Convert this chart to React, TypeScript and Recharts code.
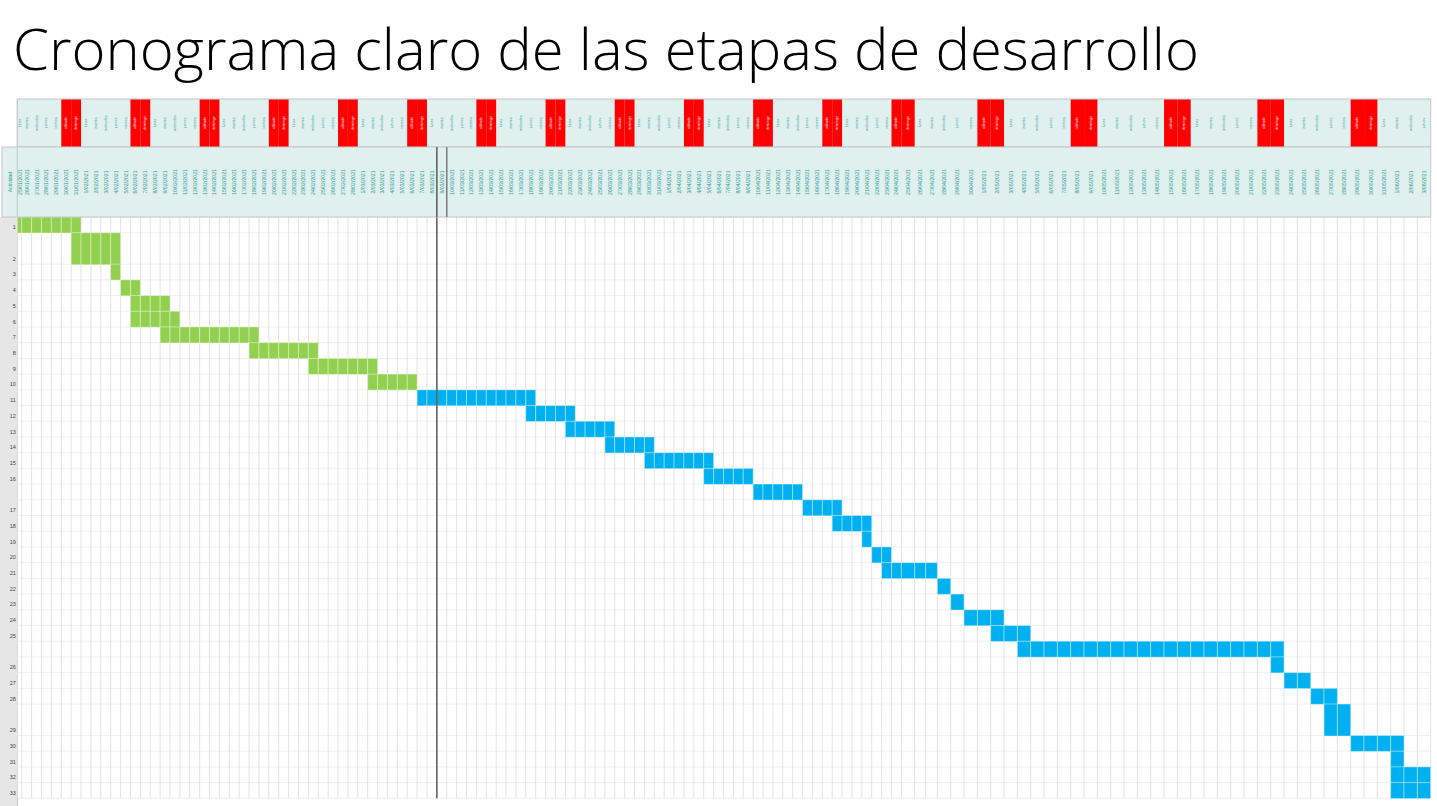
import { BarChart, Bar, XAxis, YAxis, CartesianGrid, ReferenceLine } from "recharts";

// ---- datos ----
const INICIO_PROYECTO = { anio: 2021, mes: 0, dia: 25 }; // lunes 25/01/2021
const NUM_DIAS = 130; // hasta 3/06/2021
const DIAS_SEMANA = ["lunes", "martes", "miércoles", "jueves", "viernes", "sábado", "domingo"];
const ACTIVIDADES = [1, 2, 3, 4, 5, 6, 7, 8, 9, 10, 11, 12, 13, 14, 15, 16, 17, 18, 19, 20, 21, 22, 23, 24, 25, 26, 27, 28, 29, 30, 31, 32, 33];

// columna de inicio y fin (exclusivo) de cada fila del cronograma
const INICIOS = [0, 6, 10, 11, 12, 12, 15, 24, 30, 36, 41, 52, 56, 60, 64, 70, 75, 80, 83, 86, 87, 88, 93, 94, 95, 97, 99, 118, 119, 121, 122, 124, 127, 127, 127];
const FINES = [7, 11, 11, 13, 16, 17, 25, 31, 37, 41, 53, 57, 61, 65, 71, 75, 80, 84, 87, 87, 89, 93, 94, 95, 98, 100, 119, 119, 121, 123, 124, 128, 128, 130, 130];
const FASES = [
  "diseño", "diseño", "diseño", "diseño", "diseño", "diseño", "diseño", "diseño", "diseño", "diseño",
  "desarrollo", "desarrollo", "desarrollo", "desarrollo", "desarrollo", "desarrollo", "desarrollo", "desarrollo",
  "desarrollo", "desarrollo", "desarrollo", "desarrollo", "desarrollo", "desarrollo", "desarrollo", "desarrollo",
  "desarrollo", "desarrollo", "desarrollo", "desarrollo", "desarrollo", "desarrollo", "desarrollo", "desarrollo",
  "desarrollo",
];
const DIA_MARCADO = 43; // línea vertical antes del 9/03/2021
const TITULO = "Cronograma claro de las etapas de desarrollo";

// ---- maquetación ----
const FILAS_DOBLES_GANTT = [2, 31];
const FILAS_DOBLES_ETIQUETA = [2, 17, 26, 29];
const COLOR_FASE: Record<string, string> = { diseño: "#92d050", desarrollo: "#00b0f0" };
const TEAL = "#2f9e91";
const ALTO_DIAS = 48;
const ALTO_FECHAS = 70;

// ancho relativo de cada columna de la hoja
const anchoColumna = (i: number) =>
  i === 0 ? 0.45 : i < 90 ? 1 : i === 90 ? 1.346 : i === 91 ? 1.113 : i === 92 ? 1.184 : 1.349;

const fechaDe = (i: number) => {
  const d = new Date(INICIO_PROYECTO.anio, INICIO_PROYECTO.mes, INICIO_PROYECTO.dia + i);
  return `${d.getDate()}/${String(d.getMonth() + 1).padStart(2, "0")}/${d.getFullYear()}`;
};

const registroX: { actual: any } = { actual: null };

// escala lineal por tramos (columnas de distinto ancho)
function crearEscala(pesos: number[]): any {
  const acum = [0];
  pesos.forEach((p, i) => acum.push(acum[i] + p));
  const n = pesos.length;
  const unidades = (v: number) => {
    if (v <= 0) return v * pesos[0];
    if (v >= n) return acum[n] + (v - n) * pesos[n - 1];
    const i = Math.floor(v);
    return acum[i] + (v - i) * pesos[i];
  };
  let dom = [0, n];
  let ran = [0, 1];
  const s: any = (v: any) => {
    const u0 = unidades(dom[0]);
    const u1 = unidades(dom[dom.length - 1]);
    const t = (unidades(Number(v)) - u0) / (u1 - u0 || 1);
    return ran[0] + t * (ran[ran.length - 1] - ran[0]);
  };
  s.domain = (d?: any) => {
    if (d === undefined) return dom.slice();
    dom = Array.from(d, Number);
    return s;
  };
  s.range = (r?: any) => {
    if (r === undefined) return ran.slice();
    ran = Array.from(r, Number);
    registroX.actual = s;
    return s;
  };
  s.rangeRound = s.range;
  s.copy = () => crearEscala(pesos).domain(dom).range(ran);
  s.invert = (px: number) => {
    const u0 = unidades(dom[0]);
    const u1 = unidades(dom[dom.length - 1]);
    const u = u0 + ((px - ran[0]) / (ran[ran.length - 1] - ran[0])) * (u1 - u0);
    let i = 0;
    while (i < n - 1 && acum[i + 1] <= u) i++;
    return i + (u - acum[i]) / pesos[i];
  };
  s.ticks = (cuenta = 10) => {
    const a = Math.ceil(dom[0]);
    const b = Math.floor(dom[dom.length - 1]);
    const paso = Math.max(1, Math.ceil((b - a) / cuenta));
    const out: number[] = [];
    for (let v = a; v <= b; v += paso) out.push(v);
    return out;
  };
  s.tickFormat = () => (v: number) => String(v);
  s.nice = () => s;
  s.clamp = () => s;
  s.unknown = () => s;
  s.interpolate = () => s;
  return s;
}

const ESCALA_DIAS = crearEscala(Array.from({ length: NUM_DIAS }, (_, i) => anchoColumna(i)));
const CENTROS = Array.from({ length: NUM_DIAS }, (_, i) => i + 0.5);
const BORDES = Array.from({ length: NUM_DIAS + 1 }, (_, i) => i);

// ---- tabla de ranuras (filas de altura unidad) ----
const ranuraInicioGantt: number[] = [];
let k = 0;
INICIOS.forEach((_, f) => {
  ranuraInicioGantt.push(k);
  k += FILAS_DOBLES_GANTT.includes(f + 1) ? 2 : 1;
});
const NUM_RANURAS = k;

const etiquetaEnRanura: Record<number, string> = {};
let e = 0;
ACTIVIDADES.forEach((a) => {
  e += FILAS_DOBLES_ETIQUETA.includes(a) ? 2 : 1;
  etiquetaEnRanura[e - 1] = String(a);
});

const ranuras = Array.from({ length: NUM_RANURAS }, (_, r) => {
  const f = ranuraInicioGantt.indexOf(r);
  return {
    ranura: `r${r}`,
    etiqueta: etiquetaEnRanura[r] ?? "",
    rango: f >= 0 ? [INICIOS[f], FINES[f]] : null,
    fase: f >= 0 ? FASES[f] : null,
    alto: f >= 0 && FILAS_DOBLES_GANTT.includes(f + 1) ? 2 : 1,
  };
});
const ETIQUETA_RANURA: Record<string, string> = Object.fromEntries(ranuras.map((r) => [r.ranura, r.etiqueta]));

const bordesHorizontales = [...ranuraInicioGantt, NUM_RANURAS];

function CeldasTarea(props: any) {
  const { x, y, width, height, payload } = props;
  if (!payload || !payload.rango || width == null) return null;
  const s = registroX.actual;
  const [a, b] = payload.rango;
  const alto = height * payload.alto;
  const celdas = [];
  for (let c = a; c < b; c++) {
    const x0 = s ? s(c) : x + ((c - a) * width) / (b - a);
    const x1 = s ? s(c + 1) : x + ((c - a + 1) * width) / (b - a);
    celdas.push(
      <rect
        key={c}
        x={x0}
        y={y}
        width={x1 - x0}
        height={alto}
        fill={COLOR_FASE[payload.fase]}
        stroke="rgba(255,255,255,0.38)"
        strokeWidth={1}
      />
    );
  }
  return <g>{celdas}</g>;
}

function CabeceraDia(props: any) {
  const { x, y, payload, index } = props;
  const s = registroX.actual;
  const i = Math.floor(payload.value);
  const izq = s ? s(i) : x - 5;
  const der = s ? s(i + 1) : x + 5;
  const cx = (izq + der) / 2;
  const finDe = i % 7 >= 5;
  const yDias = y - ALTO_DIAS - ALTO_FECHAS;
  const yFechas = y - ALTO_FECHAS;
  const cyDia = yDias + ALTO_DIAS / 2;
  const cyFecha = yFechas + ALTO_FECHAS / 2;
  const fin = s ? s(NUM_DIAS) : x;
  return (
    <g>
      {index === 0 && (
        <g>
          <rect x={izq} y={yDias} width={fin - izq} height={ALTO_DIAS} fill="#dff0ef" stroke="#c6c6c6" strokeWidth={1} />
          <rect x={izq - 15.3} y={yFechas} width={fin - izq + 15.3} height={ALTO_FECHAS} fill="#dff0ef" stroke="#c6c6c6" strokeWidth={1} />
          <line x1={izq} x2={izq} y1={yDias} y2={y} stroke="#c6c6c6" strokeWidth={1} />
          <text
            x={izq - 7.5}
            y={cyFecha}
            transform={`rotate(-90 ${izq - 7.5} ${cyFecha})`}
            textAnchor="middle"
            dominantBaseline="central"
            fontSize={5}
            fontFamily="Liberation Sans, Arial, sans-serif"
            fill={TEAL}
          >
            Actividad
          </text>
        </g>
      )}
      {finDe && <rect x={izq} y={yDias + 0.5} width={der - izq} height={ALTO_DIAS - 1} fill="#ff0000" />}
      <text
        x={cx}
        y={cyDia}
        transform={`rotate(-90 ${cx} ${cyDia})`}
        textAnchor="middle"
        dominantBaseline="central"
        fontSize={3.6}
        fontFamily="Liberation Sans, Arial, sans-serif"
        fill={finDe ? "#ffffff" : TEAL}
      >
        {DIAS_SEMANA[i % 7]}
      </text>
      <text
        x={cx}
        y={cyFecha}
        transform={`rotate(-90 ${cx} ${cyFecha})`}
        textAnchor="middle"
        dominantBaseline="central"
        fontSize={5.2}
        fontFamily="Liberation Sans, Arial, sans-serif"
        fill={TEAL}
      >
        {fechaDe(i)}
      </text>
      {i === DIA_MARCADO && (
        <g>
          <line x1={izq} x2={izq} y1={yFechas} y2={y} stroke="#5a5a5a" strokeWidth={1.5} />
          <line x1={der} x2={der} y1={yFechas} y2={y} stroke="#7a7a7a" strokeWidth={1.5} />
        </g>
      )}
    </g>
  );
}

function EtiquetaActividad(props: any) {
  const { x, y, payload } = props;
  const texto = ETIQUETA_RANURA[payload.value] ?? "";
  if (!texto) return null;
  return (
    <text
      x={x}
      y={y + 4.5}
      textAnchor="end"
      fontSize={5.5}
      fontFamily="Liberation Sans, Arial, sans-serif"
      fill="#444"
    >
      {texto}
    </text>
  );
}

export default function App() {
  return (
    <div
      style={{
        position: "absolute",
        left: 0,
        top: 0,
        width: 1437,
        height: 806,
        background: "#fff",
        overflow: "hidden",
      }}
    >
      <svg width={1437} height={95} style={{ position: "absolute", left: 0, top: 0 }}>
        <text
          x={13}
          y={70}
          fontFamily="'Open Sans', Lato, sans-serif"
          fontWeight={300}
          fontSize={57}
          textLength={1186}
          lengthAdjust="spacingAndGlyphs"
          fill="#000"
        >
          {TITULO}
        </text>
      </svg>
      <div
        style={{
          position: "absolute",
          left: 0,
          top: 217,
          width: 17,
          height: 589,
          background: "#e6e6e6",
          borderRight: "1px solid #c4c4c4",
        }}
      />
      <div style={{ position: "absolute", left: 0, top: 0 }}>
        <BarChart
          layout="vertical"
          width={1437}
          height={806}
          data={ranuras}
          margin={{ top: 99, right: 6.3, bottom: 7.7, left: 0 }}
          barCategoryGap={0}
          barGap={0}
        >
          <CartesianGrid
            xAxisId="dias"
            vertical={false}
            stroke="#f0f0f0"
            horizontalCoordinatesGenerator={({ offset }: any) =>
              bordesHorizontales.map((b) => offset.top + (b * offset.height) / NUM_RANURAS)
            }
          />
          <CartesianGrid xAxisId="dias" horizontal={false} stroke="#e3e3e3" verticalValues={BORDES} />
          <XAxis
            xAxisId="dias"
            type="number"
            orientation="top"
            domain={[0, NUM_DIAS]}
            scale={ESCALA_DIAS}
            allowDataOverflow
            ticks={CENTROS}
            interval={0}
            height={ALTO_DIAS + ALTO_FECHAS}
            tickSize={0}
            tickMargin={0}
            tickLine={false}
            axisLine={false}
            tick={(p: any) => <CabeceraDia {...p} />}
          />
          <YAxis
            type="category"
            dataKey="ranura"
            width={17.3}
            interval={0}
            tickSize={0}
            tickMargin={1.5}
            tickLine={false}
            axisLine={false}
            tick={(p: any) => <EtiquetaActividad {...p} />}
          />
          <Bar xAxisId="dias" dataKey="rango" shape={(p: any) => <CeldasTarea {...p} />} isAnimationActive={false} />
          <ReferenceLine xAxisId="dias" x={DIA_MARCADO} stroke="#5a5a5a" strokeWidth={1.5} />
        </BarChart>
      </div>
    </div>
  );
}
